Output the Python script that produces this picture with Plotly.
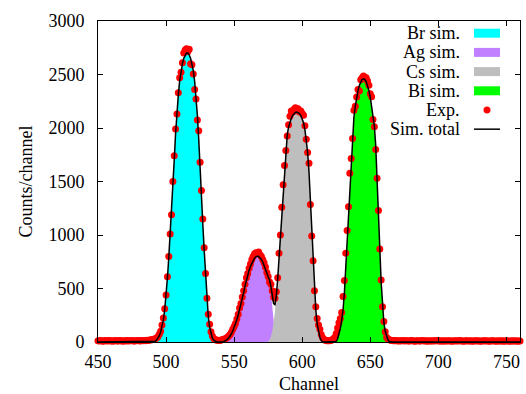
import plotly.graph_objects as go

# ---------------- data ----------------
channel_min, channel_max = 450, 760

br_channels = list(range(490, 539))
br_sim = [0, 2, 7, 18, 34, 58, 92, 140, 205, 300,
          420, 600, 790, 990, 1200, 1440, 1700, 1950, 2150, 2310,
          2440, 2537, 2600, 2651, 2683, 2702, 2702, 2683, 2651, 2600,
          2537, 2435, 2294, 2118, 1894, 1580, 1340, 1100, 860, 620,
          400, 240, 140, 75, 38, 18, 7, 2, 0]

ag_channels = list(range(541, 583))
ag_sim = [0, 3, 8, 15, 25, 38, 55, 77, 103, 133,
          168, 208, 252, 300, 352, 406, 462, 525, 580, 628,
          670, 707, 738, 763, 783, 796, 802, 800, 790, 772,
          748, 718, 684, 646, 605, 560, 470, 330, 180, 70,
          10, 0]

cs_channels = list(range(574, 616))
cs_sim = [0, 5, 20, 50, 100, 180, 280, 420, 590, 790,
          1010, 1230, 1440, 1640, 1810, 1935, 2010, 2060, 2092, 2118,
          2135, 2146, 2150, 2146, 2135, 2118, 2090, 2050, 1985, 1890,
          1770, 1590, 1340, 1070, 790, 510, 300, 170, 95, 45,
          15, 0]

bi_channels = list(range(624, 666))
bi_sim = [0, 5, 30, 70, 125, 200, 300, 460, 700, 950,
          1230, 1501, 1747, 1968, 2103, 2202, 2288, 2349, 2399, 2435,
          2453, 2460, 2453, 2435, 2399, 2349, 2288, 2210, 2130, 2020,
          1840, 1560, 1230, 880, 560, 320, 180, 100, 50, 20,
          6, 0]

exp_counts = (
    # 450-489
    [12, 9, 14, 10, 8, 13, 11, 9, 15, 10, 12, 8, 11, 14, 9, 10, 13, 12, 8, 11,
     10, 14, 9, 12, 11, 13, 10, 9, 12, 15, 11, 10, 14, 12, 13, 11, 16, 14, 18, 20]
    # 490-538
    + [22, 25, 30, 38, 50, 72, 100, 158, 225, 310,
       440, 610, 800, 1010, 1190, 1500, 1740, 1990, 2130, 2330,
       2470, 2520, 2610, 2700, 2730, 2740, 2715, 2735, 2600, 2590,
       2505, 2360, 2270, 2075, 1975, 1680, 1415, 1150, 880, 640,
       410, 260, 165, 95, 55, 32, 22, 18, 16]
    # 539-582
    + [15, 17, 20, 24, 28, 35, 42, 55, 70, 92,
       118, 146, 172, 215, 260, 318, 360, 420, 480, 540,
       600, 640, 690, 730, 770, 800, 825, 835, 830, 840,
       815, 800, 770, 740, 700, 650, 612, 560, 540, 480,
       420, 410, 470, 600]
    # 583-615
    + [830, 1000, 1260, 1470, 1650, 1790, 1925, 2030, 2110, 2160,
       2150, 2175, 2190, 2165, 2180, 2150, 2160, 2135, 2120, 2020,
       1895, 1770, 1670, 1285, 990, 760, 480, 330, 220, 160,
       120, 70, 40]
    # 616-623
    + [25, 16, 12, 11, 12, 15, 20, 30]
    # 624-665
    + [45, 80, 130, 180, 220, 275, 425, 575, 830, 1041,
       1265, 1576, 1716, 1903, 2167, 2204, 2290, 2360, 2345, 2450,
       2470, 2485, 2475, 2470, 2440, 2400, 2320, 2291, 2080, 2011,
       1800, 1530, 1230, 870, 580, 330, 192, 95, 45, 28,
       20, 16]
    # 666-760
    + [14, 12, 11, 13, 10, 12, 9, 11, 13, 10,
       12, 11, 9, 10, 13, 12, 10, 8, 11, 12,
       10, 9, 13, 11, 10, 12, 8, 11, 10, 9,
       12, 10, 11, 13, 9, 10, 12, 8, 11, 10,
       9, 12, 10, 11, 8, 10, 12, 9, 11, 10,
       13, 9, 10, 8, 11, 12, 9, 10, 11, 8,
       10, 12, 9, 11, 10, 8, 9, 12, 10, 11,
       9, 10, 8, 11, 12, 9, 10, 8, 11, 10,
       9, 12, 8, 10, 11, 9, 10, 8, 12, 9,
       10, 11, 8, 10, 9]
)
exp_channels = list(range(channel_min, channel_min + len(exp_counts)))
assert len(exp_counts) == channel_max - channel_min + 1, len(exp_counts)

legend_labels = ["Br sim.", "Ag sim.", "Cs sim.", "Bi sim.", "Exp.", "Sim. total"]
x_ticks = [450, 500, 550, 600, 650, 700, 750]
y_ticks = [0, 500, 1000, 1500, 2000, 2500, 3000]

# ---------------- derived: simulated total ----------------
total_channels = list(range(channel_min, channel_max + 1))
total_sim = [0] * len(total_channels)
for chs, vals in [(br_channels, br_sim), (ag_channels, ag_sim),
                  (cs_channels, cs_sim), (bi_channels, bi_sim)]:
    for c, v in zip(chs, vals):
        total_sim[c - channel_min] += v

# ---------------- styles ----------------
FONT = "Liberation Serif, Times New Roman, serif"
FS = 18
fill_colors = ["#00ffff", "#c080ff", "#bebebe", "#00ff00"]
exp_color = "#ff0000"

fig = go.Figure()
for (chs, vals), name, col in zip(
        [(br_channels, br_sim), (ag_channels, ag_sim),
         (cs_channels, cs_sim), (bi_channels, bi_sim)],
        legend_labels[:4], fill_colors):
    fig.add_trace(go.Scatter(x=chs, y=vals, name=name, mode="lines",
                             line=dict(width=0, color=col), fill="tozeroy",
                             fillcolor=col, showlegend=False))

fig.add_trace(go.Scatter(x=exp_channels, y=exp_counts, name=legend_labels[4],
                         mode="markers", cliponaxis=False,
                         marker=dict(color=exp_color, size=7, line=dict(width=0)),
                         showlegend=False))
fig.add_trace(go.Scatter(x=total_channels, y=total_sim, name=legend_labels[5],
                         mode="lines", line=dict(color="black", width=1.5),
                         showlegend=False))

# ---------------- custom legend (text right, sample on the right) ----------------
row_top, row_step = 0.962, 0.0598
text_right = 0.862
sw_x0, sw_x1 = 0.891, 0.9526
sw_half = 0.014
for i, lab in enumerate(legend_labels):
    yy = row_top - i * row_step
    fig.add_annotation(x=text_right, y=yy, xref="paper", yref="paper",
                       text=lab, showarrow=False, xanchor="right", yanchor="middle",
                       font=dict(family=FONT, size=FS, color="black"))
    if i < 4:
        fig.add_shape(type="rect", xref="paper", yref="paper",
                      x0=sw_x0, x1=sw_x1, y0=yy - sw_half, y1=yy + sw_half,
                      fillcolor=fill_colors[i], line=dict(width=0))
    elif i == 4:
        cx = (sw_x0 + sw_x1) / 2
        fig.add_shape(type="circle", xref="paper", yref="paper",
                      x0=cx - 0.0083, x1=cx + 0.0083, y0=yy - 0.0109, y1=yy + 0.0109,
                      fillcolor=exp_color, line=dict(width=0))
    else:
        fig.add_shape(type="line", xref="paper", yref="paper",
                      x0=sw_x0, x1=sw_x1, y0=yy, y1=yy,
                      line=dict(color="black", width=1.5))

axis_common = dict(showgrid=False, zeroline=False, showline=True, linecolor="black",
                   linewidth=1, mirror="ticks", ticks="inside", ticklen=5,
                   tickcolor="black", tickwidth=1, automargin=True,
                   tickfont=dict(family=FONT, size=FS, color="black"))

fig.update_layout(
    width=526, height=394,
    margin=dict(l=98, r=6, t=21, b=52, autoexpand=False),
    paper_bgcolor="white", plot_bgcolor="white",
    font=dict(family=FONT, size=FS, color="black"),
    xaxis=dict(range=[channel_min, channel_max], tickvals=x_ticks,
               title=dict(text="Channel", font=dict(family=FONT, size=FS), standoff=12),
               ticklabelstandoff=3, **axis_common),
    yaxis=dict(range=[0, 3000], tickvals=y_ticks,
               title=dict(text="Counts/channel", font=dict(family=FONT, size=FS), standoff=11),
               ticklabelstandoff=9, **axis_common),
)

fig.write_html("out.html", config={"displayModeBar": False},
               post_script="document.body.style.margin='0';document.body.style.overflow='hidden';")
